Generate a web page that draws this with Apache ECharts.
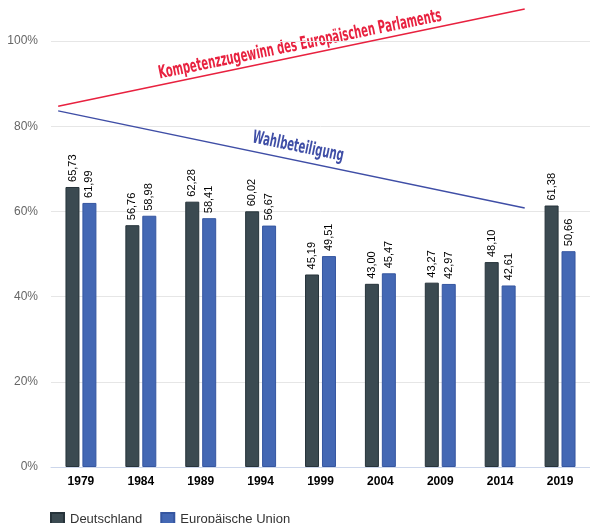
<!DOCTYPE html>
<html>
<head>
<meta charset="utf-8">
<script src="https://cdn.jsdelivr.net/npm/echarts@6/dist/echarts.min.js"></script>
<style>
html,body{margin:0;padding:0;background:#fff;}
#c{width:590px;height:523px;}
</style>
</head>
<body>
<div id="c"></div>
<script>
const years = ['1979','1984','1989','1994','1999','2004','2009','2014','2019'];
const deutschland = [65.73, 56.76, 62.28, 60.02, 45.19, 43.00, 43.27, 48.10, 61.38];
const europa = [61.99, 58.98, 58.41, 56.67, 49.51, 45.47, 42.97, 42.61, 50.66];
const yTicks = [0, 20, 40, 60, 80, 100];
// annotation trend lines (category-index x, percent y)
const kompetenzLine = [[-0.38, 84.7], [7.41, 107.5]];
const wahlLine = [[-0.38, 83.6], [7.41, 60.8]];

const chart = echarts.init(document.getElementById('c'), null, {renderer:'canvas'});
const fmt = p => p.value.toFixed(2).replace('.', ',');
const barLabel = {
  show: true, position: 'top', rotate: 90, align: 'left', verticalAlign: 'middle',
  distance: 5, formatter: fmt, color: '#000', fontSize: 11,
  fontFamily: 'Liberation Sans, Arial, sans-serif'
};
const annFont = '"DejaVu Sans Condensed", "DejaVu Sans", sans-serif';
function annText(txt, x, y, rot, color) {
  return {
    type: 'group', x: x, y: y, rotation: rot, silent: true,
    children: [{
      type: 'text', x: 0, y: 0, scaleX: 0.62, scaleY: 1,
      style: {text: txt, fill: color, font: 'bold 18px ' + annFont, align: 'center', verticalAlign: 'middle'}
    }]
  };
}
chart.setOption({
  animation: false,
  backgroundColor: '#fff',
  grid: {left: 51, top: 41, width: 544, height: 426, containLabel: false},
  legend: {
    left: 45, top: 507, itemWidth: 13, itemHeight: 13, itemGap: 18, icon: 'rect',
    data: ['Deutschland', 'Europäische Union'],
    textStyle: {fontSize: 13, color: '#333', fontFamily: 'Liberation Sans, Arial, sans-serif', padding: [0,0,0,1]}
  },
  xAxis: [{
    type: 'category', data: years,
    axisLine: {lineStyle: {color: '#ccd6eb'}},
    axisTick: {show: false},
    axisLabel: {color: '#000', fontWeight: 'bold', fontSize: 12, margin: 9, fontFamily: 'Liberation Sans, Arial, sans-serif'}
  }, {
    type: 'value', min: -0.5, max: 8.5, show: false
  }],
  yAxis: {
    type: 'value', min: yTicks[0], max: yTicks[yTicks.length-1], interval: 20,
    axisLabel: {formatter: '{value}%', color: '#666', fontSize: 12, margin: 13, fontFamily: 'Liberation Sans, Arial, sans-serif'},
    axisLine: {show: false}, axisTick: {show: false},
    splitLine: {lineStyle: {color: '#e6e6e6'}}
  },
  series: [{
    name: 'Deutschland', type: 'bar', data: deutschland, barWidth: 14, barGap: '21%',
    itemStyle: {color: '#3b4a51', borderColor: '#26333a', borderWidth: 1},
    label: barLabel
  }, {
    name: 'Europäische Union', type: 'bar', data: europa, barWidth: 14,
    itemStyle: {color: '#4468b4', borderColor: '#3556a0', borderWidth: 1},
    label: barLabel
  }, {
    type: 'line', xAxisIndex: 1, data: kompetenzLine, showSymbol: false, clip: false, silent: true,
    lineStyle: {color: '#e8213f', width: 1.5}
  }, {
    type: 'line', xAxisIndex: 1, data: wahlLine, showSymbol: false, clip: false, silent: true,
    lineStyle: {color: '#3f4ea6', width: 1.5}
  }],
  graphic: [
    annText('Kompetenzzugewinn des Europäischen Parlaments', 300, 45, 0.2025, '#e8213f'),
    annText('Wahlbeteiligung', 298, 147, -0.2025, '#3f4ea6')
  ]
});
</script>
</body>
</html>
